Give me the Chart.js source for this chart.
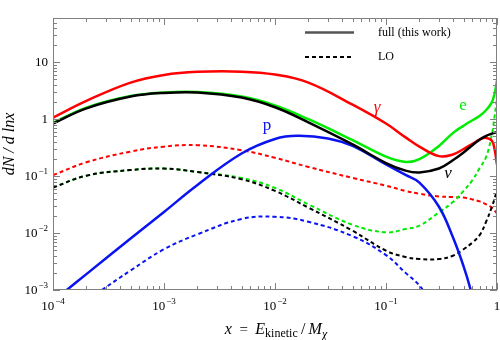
<!DOCTYPE html>
<html>
<head>
<meta charset="utf-8">
<script src="https://cdn.jsdelivr.net/npm/chart.js@4.4.1/dist/chart.umd.min.js"></script>
<style>
  html, body { margin: 0; padding: 0; background: #fff; }
  #wrap { width: 500px; height: 340px; }
</style>
</head>
<body>
<div id="wrap"><canvas id="spectra" width="500" height="340"></canvas></div>
<script>
// x = E_kinetic / M_chi, shared grid for most curves
const gridX = [1e-4, 2e-4, 5e-4, 1e-3, 2e-3, 5e-3, 1e-2, 2e-2, 5e-2, 0.1, 0.15, 0.2, 0.3, 0.4, 0.5, 0.6, 0.7, 0.8, 0.9, 0.95, 1];

// full (this work)
const gammaFull = [1.07, 2.1, 4.4, 6.0, 6.8, 6.85, 6.1, 4.4, 1.8, 0.84, 0.48, 0.33, 0.225, 0.24, 0.3, 0.37, 0.44, 0.47, 0.42, 0.3, 0.16];
const eFull     = [0.86, 1.6, 2.55, 2.95, 3.0, 2.5, 1.75, 1.0, 0.43, 0.22, 0.178, 0.2, 0.34, 0.57, 0.77, 0.96, 1.15, 1.45, 2.0, 2.8, 4.8];
const nuFull    = [0.84, 1.55, 2.5, 2.9, 2.95, 2.4, 1.62, 0.88, 0.36, 0.17, 0.125, 0.116, 0.136, 0.19, 0.26, 0.35, 0.44, 0.51, 0.56, 0.58, 0.58];
const pFullX    = [1.33e-4, 2e-4, 5e-4, 1e-3, 2e-3, 5e-3, 1e-2, 1.6e-2, 3e-2, 5e-2, 0.1, 0.15, 0.2, 0.3, 0.4, 0.5, 0.58, 0.63];
const pFull     = [0.001, 0.0019, 0.008, 0.0235, 0.07, 0.25, 0.45, 0.51, 0.46, 0.34, 0.16, 0.105, 0.077, 0.029, 0.0085, 0.0026, 0.001, 0.0005];

// LO
const gammaLO = [0.104, 0.175, 0.27, 0.33, 0.35, 0.285, 0.21, 0.145, 0.093, 0.068, 0.055, 0.049, 0.044, 0.043, 0.042, 0.039, 0.036, 0.032, 0.028, 0.025, 0.022];
const eLO     = [0.063, 0.102, 0.128, 0.136, 0.118, 0.093, 0.062, 0.032, 0.014, 0.0103, 0.0118, 0.0135, 0.023, 0.035, 0.055, 0.085, 0.14, 0.22, 0.55, 1.1, 2.4];
const nuLO    = [0.063, 0.102, 0.128, 0.136, 0.118, 0.088, 0.055, 0.028, 0.011, 0.0049, 0.0038, 0.0035, 0.0035, 0.004, 0.0052, 0.0068, 0.0093, 0.016, 0.029, 0.04, 0.057];
const pLOX    = [2.75e-4, 5e-4, 1e-3, 2e-3, 5e-3, 1e-2, 2e-2, 5e-2, 0.1, 0.15, 0.2, 0.25];
const pLO     = [0.001, 0.0022, 0.0052, 0.0095, 0.0177, 0.0193, 0.0158, 0.0088, 0.0041, 0.002, 0.0012, 0.0006];

// ticks
const xMajor = [1e-4, 1e-3, 1e-2, 1e-1, 1];
const xMajorExp = ['-4', '-3', '-2', '-1', ''];
const yMajor = [1e-3, 1e-2, 1e-1, 1, 10];
const yMajorLbl = [['10', '-3'], ['10', '-2'], ['10', '-1'], ['1', ''], ['10', '']];

const RED = '#ff0000', GREEN = '#00ec00', BLACK = '#000000', BLUE = '#0a14f0';
const SERIF = '"Liberation Serif", "DejaVu Serif", serif';

function pts(xs, ys) {
    return xs.map((x, i) => ({ x: x, y: ys[i] }));
}

function solid(data, color) {
    return { data: data, borderColor: color, borderWidth: 2.5, pointRadius: 0, fill: false, tension: 0.4 };
}

function dashed(data, color) {
    return { data: data, borderColor: color, borderWidth: 2, borderDash: [4, 3], pointRadius: 0, fill: false, tension: 0.4 };
}

// draws "10" with a raised exponent
function powText(ctx, base, exp, x, y, align) {
    ctx.font = '13px ' + SERIF;
    const wb = ctx.measureText(base).width;
    ctx.font = '9px ' + SERIF;
    const expStr = exp ? exp.replace('-', '\u2212') : '';
    const we = exp ? ctx.measureText(expStr).width + 1 : 0;
    let x0 = x;
    if (align === 'center') x0 = x - (wb + we) / 2;
    if (align === 'right') x0 = x - (wb + we);
    ctx.textAlign = 'left';
    ctx.textBaseline = 'alphabetic';
    ctx.font = '13px ' + SERIF;
    ctx.fillText(base, x0, y);
    if (exp) {
        ctx.font = '9px ' + SERIF;
        ctx.fillText(expStr, x0 + wb + 1, y - 6);
    }
}

function drawPieces(ctx, pieces, cx, y) {
    let total = 0;
    pieces.forEach(p => { ctx.font = p.font; p.w = ctx.measureText(p.t).width; total += p.w; });
    let x = cx - total / 2;
    ctx.textAlign = 'left';
    ctx.textBaseline = 'alphabetic';
    pieces.forEach(p => {
        ctx.font = p.font;
        ctx.fillText(p.t, x, y + (p.dy || 0));
        x += p.w;
    });
}

const framePlugin = {
    id: 'frame',
    afterDraw(chart) {
        const ctx = chart.ctx;
        const a = chart.chartArea;
        const xs = chart.scales.x, ys = chart.scales.y;
        ctx.save();

        // frame
        ctx.strokeStyle = '#808080';
        ctx.lineWidth = 1;
        ctx.strokeRect(a.left + 0.5, a.top + 0.5, a.right - a.left - 1, a.bottom - a.top - 1);

        // x ticks, top and bottom
        ctx.beginPath();
        for (let d = -4; d <= 0; d++) {
            for (let m = 1; m <= 9; m++) {
                const v = m * Math.pow(10, d);
                if (v > 1.0001) break;
                const px = Math.round(xs.getPixelForValue(v)) + 0.5;
                const len = m === 1 ? 7 : 4;
                ctx.moveTo(px, a.bottom); ctx.lineTo(px, a.bottom - len);
                ctx.moveTo(px, a.top); ctx.lineTo(px, a.top + len);
            }
        }
        // y ticks, left and right
        for (let d = -3; d <= 1; d++) {
            for (let m = 1; m <= 9; m++) {
                const v = m * Math.pow(10, d);
                if (v > 60) break;
                const py = Math.round(ys.getPixelForValue(v)) + 0.5;
                const len = m === 1 ? 7 : 4;
                ctx.moveTo(a.left, py); ctx.lineTo(a.left + len, py);
                ctx.moveTo(a.right, py); ctx.lineTo(a.right - len, py);
            }
        }
        ctx.stroke();

        // tick labels
        ctx.fillStyle = '#000';
        xMajor.forEach((v, i) => {
            const px = xs.getPixelForValue(v);
            const base = xMajorExp[i] ? '10' : '1';
            powText(ctx, base, xMajorExp[i], px, a.bottom + 20, 'center');
        });
        yMajor.forEach((v, i) => {
            const py = ys.getPixelForValue(v);
            powText(ctx, yMajorLbl[i][0], yMajorLbl[i][1], a.left - 5, py + 4, 'right');
        });

        // axis titles
        drawPieces(ctx, [
            { t: 'x', font: 'italic 16px ' + SERIF },
            { t: '  =  ', font: '15px ' + SERIF },
            { t: 'E', font: 'italic 16px ' + SERIF },
            { t: 'kinetic', font: '12px ' + SERIF, dy: 3 },
            { t: '\u2009/\u2009', font: '16px ' + SERIF },
            { t: 'M', font: 'italic 16px ' + SERIF },
            { t: '\u03c7', font: 'italic 12px ' + SERIF, dy: 4 }
        ], 276, 334);

        ctx.save();
        ctx.translate(14, 144);
        ctx.rotate(-Math.PI / 2);
        ctx.font = 'italic 16px ' + SERIF;
        ctx.textAlign = 'center';
        ctx.textBaseline = 'alphabetic';
        ctx.fillText('dN / d lnx', 0, 0);
        ctx.restore();

        // legend
        ctx.strokeStyle = '#555';
        ctx.lineWidth = 2.5;
        ctx.beginPath(); ctx.moveTo(305, 32.5); ctx.lineTo(354, 32.5); ctx.stroke();
        ctx.strokeStyle = '#000';
        ctx.lineWidth = 2;
        ctx.setLineDash([4, 3]);
        ctx.beginPath(); ctx.moveTo(305, 57); ctx.lineTo(352, 57); ctx.stroke();
        ctx.setLineDash([]);
        ctx.font = '12px ' + SERIF;
        ctx.textAlign = 'left';
        ctx.textBaseline = 'middle';
        ctx.fillText('full (this work)', 378, 33);
        ctx.fillText('LO', 378, 57);

        // curve labels
        ctx.textAlign = 'center';
        ctx.font = 'italic 17px ' + SERIF;
        ctx.fillStyle = RED;
        ctx.fillText('\u03b3', 377, 108);
        ctx.fillStyle = BLACK;
        ctx.fillText('\u03bd', 448, 174);
        ctx.font = '17px ' + SERIF;
        ctx.fillStyle = GREEN;
        ctx.fillText('e', 463, 106);
        ctx.fillStyle = BLUE;
        ctx.fillText('p', 267, 126);

        ctx.restore();
    }
};

new Chart(document.getElementById('spectra'), {
    type: 'line',
    data: {
        datasets: [
            solid(pts(gridX, nuFull), BLACK),
            solid(pts(pFullX, pFull), BLUE),
            solid(pts(gridX, gammaFull), RED),
            solid(pts(gridX, eFull), GREEN),
            dashed(pts(gridX, nuLO), BLACK),
            dashed(pts(gridX, eLO), GREEN),
            dashed(pts(pLOX, pLO), BLUE),
            dashed(pts(gridX, gammaLO), RED)
        ]
    },
    options: {
        responsive: false,
        animation: false,
        devicePixelRatio: 1,
        layout: { padding: { left: 53, right: 3, top: 18, bottom: 50 } },
        plugins: { legend: { display: false }, tooltip: { enabled: false } },
        scales: {
            x: { type: 'logarithmic', min: 1e-4, max: 1, display: false },
            y: { type: 'logarithmic', min: 1e-3, max: 60, display: false }
        }
    },
    plugins: [framePlugin]
});
</script>
</body>
</html>
